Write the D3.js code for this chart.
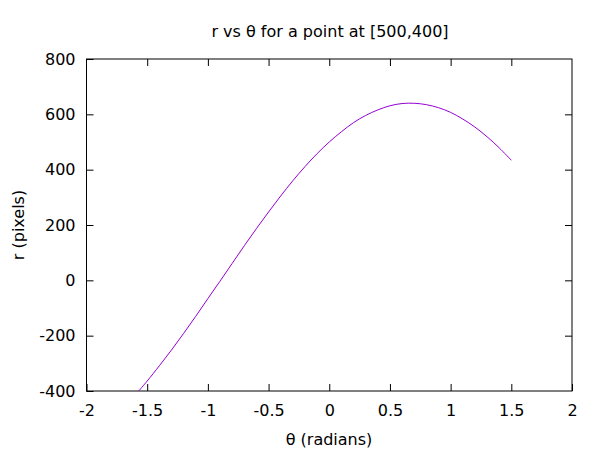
<!DOCTYPE html>
<html>
<head>
<meta charset="utf-8">
<script src="https://cdn.jsdelivr.net/npm/d3@7"></script>
<style>
  body { margin: 0; background: #fff; }
  svg { display: block; }
  text { font-family: "DejaVu Sans", sans-serif; font-size: 16px; fill: #000; }
</style>
</head>
<body>
<div id="chart"></div>
<script>
// values
const theta = [-1.57, -1.5, -1.4, -1.3, -1.2, -1.1, -1.0, -0.9, -0.8, -0.7, -0.6, -0.5, -0.4, -0.3, -0.2, -0.1,
               0, 0.1, 0.2, 0.3, 0.4, 0.5, 0.6, 0.7, 0.8, 0.9, 1.0, 1.1, 1.2, 1.3, 1.4, 1.5];
const rPix = [-400, -364, -309, -252, -192, -130, -66, -3, 61, 125, 187, 247, 305, 360, 411, 458,
              500, 537, 570, 596, 616, 631, 639, 640, 635, 624, 607, 583, 554, 519, 479, 434];
const xTicks = [-2, -1.5, -1, -0.5, 0, 0.5, 1, 1.5, 2];
const yTicks = [-400, -200, 0, 200, 400, 600, 800];

const W = 604, H = 454;
const margin = { top: 59, right: 32, bottom: 63, left: 86.5 };
const width = W - margin.left - margin.right;
const height = H - margin.top - margin.bottom;
const tick = 7;

const svg = d3.select('#chart').append('svg')
    .attr('width', W)
    .attr('height', H);

const g = svg.append('g')
    .attr('transform', 'translate(' + margin.left + ',' + margin.top + ')');

const x = d3.scaleLinear().domain([-2, 2]).range([0, width]);
const y = d3.scaleLinear().domain([-400, 800]).range([height, 0]);

// axes: ticks point inward, mirrored on all four sides
const fmt = d => String(d);
g.append('g').attr('transform', 'translate(0,' + height + ')')
    .call(d3.axisBottom(x).tickValues(xTicks).tickFormat(fmt).tickSizeInner(-tick).tickSizeOuter(0).tickPadding(14));
g.append('g')
    .call(d3.axisTop(x).tickValues(xTicks.slice(1, -1)).tickFormat('').tickSizeInner(-tick).tickSizeOuter(0));
g.append('g')
    .call(d3.axisLeft(y).tickValues(yTicks).tickFormat(fmt).tickSizeInner(-tick).tickSizeOuter(0).tickPadding(11));
g.append('g').attr('transform', 'translate(' + width + ',0)')
    .call(d3.axisRight(y).tickValues(yTicks.slice(1, -1)).tickFormat('').tickSizeInner(-tick).tickSizeOuter(0));

g.selectAll('.domain').remove();
g.selectAll('.tick line').attr('stroke', '#000').attr('stroke-width', 1);
g.selectAll('.tick text').style('font-size', '16px').attr('fill', '#000');

g.append('rect')
    .attr('width', width)
    .attr('height', height)
    .attr('fill', 'none')
    .attr('stroke', '#000')
    .attr('stroke-width', 1);

// clip the curve to the plot box
g.append('clipPath').attr('id', 'clip')
    .append('rect').attr('width', width).attr('height', height);

const pts = theta.map((t, i) => [t, rPix[i]]);
const line = d3.line()
    .x(d => x(d[0]))
    .y(d => y(d[1]))
    .curve(d3.curveCatmullRom);

g.append('path')
    .datum(pts)
    .attr('clip-path', 'url(#clip)')
    .attr('fill', 'none')
    .attr('stroke', '#9400d3')
    .attr('stroke-width', 1)
    .attr('d', line);

// labels
svg.append('text')
    .attr('x', 330).attr('y', 37)
    .attr('text-anchor', 'middle')
    .text('r vs θ for a point at [500,400]');

svg.append('text')
    .attr('x', 329).attr('y', 445)
    .attr('text-anchor', 'middle')
    .text('θ (radians)');

svg.append('text')
    .attr('transform', 'translate(24,225) rotate(-90)')
    .attr('text-anchor', 'middle')
    .text('r (pixels)');
</script>
</body>
</html>
